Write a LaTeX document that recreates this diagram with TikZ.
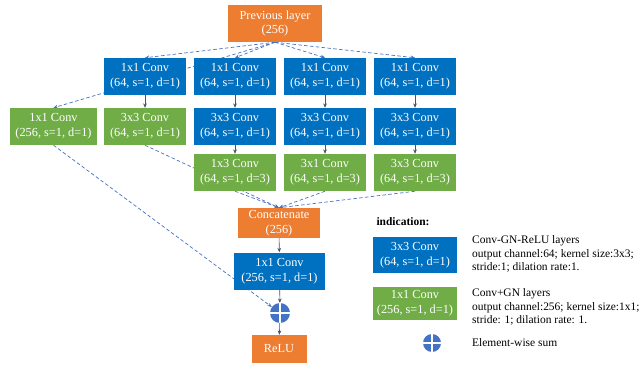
\documentclass[tikz,border=0pt]{standalone}
\usepackage{fontspec}
\setmainfont{Liberation Serif}
\usetikzlibrary{arrows.meta, positioning, backgrounds}
\definecolor{convblue}{HTML}{0070C0}
\definecolor{convgreen}{HTML}{70AD47}
\definecolor{layerorange}{HTML}{ED7D31}
\definecolor{linkblue}{HTML}{4472C4}
\definecolor{flowgray}{HTML}{44546A}

\begin{document}
\begin{tikzpicture}[x=0.3mm, y=-0.3mm, box/.style={align=center, text=white, inner sep=0pt, minimum width=24.6mm, minimum height=11.1mm, font=\fontsize{10.5}{12.5}\selectfont}, convrelu/.style={box, fill=convblue}, convgn/.style={box, fill=convgreen}, io/.style={box, fill=layerorange}, sum/.style={circle, fill=linkblue, minimum size=6mm, inner sep=0pt, path picture={\draw[white, line width=1pt] (path picture bounding box.north) -- (path picture bounding box.south) (path picture bounding box.west) -- (path picture bounding box.east);}}, link/.style={draw=linkblue, densely dashed, line width=0.6pt, -{Stealth[length=1.3mm, width=1.1mm]}}, flow/.style={draw=flowgray, line width=0.5pt, -{Stealth[length=1.3mm, width=1.1mm]}}, note/.style={align=left, anchor=west, font=\fontsize{9.8}{11.6}\selectfont}]
\useasboundingbox (0,0) rectangle (643,367);
\node[io, minimum width=28.2mm] (prev) at (275,23.5) {Previous layer\\(256)};
\foreach \i/\x in {1/145,2/235,3/325,4/415}{\node[convrelu] (a\i) at (\x,76.5) {1x1 Conv\\(64, s=1, d=1)};}
\node[convgn, minimum width=26.1mm] (b0) at (53.5,126.5) {1x1 Conv\\(256, s=1, d=1)};
\node[convgn] (b1) at (145,126.5) {3x3 Conv\\(64, s=1, d=1)};
\foreach \i/\x in {2/235,3/325,4/415}{\node[convrelu] (b\i) at (\x,126.5) {3x3 Conv\\(64, s=1, d=1)};}
\foreach \i/\x/\k in {2/235/1x3,3/325/3x1,4/415/3x3}{\node[convgn] (c\i) at (\x,172.5) {\k\ Conv\\(64, s=1, d=3)};}
\node[io, minimum height=9mm] (cat) at (279,223) {Concatenate\\(256)};
\node[convrelu, minimum width=27.3mm] (fuse) at (279.5,271) {1x1 Conv\\(256, s=1, d=1)};
\node[sum] (add) at (280,313) {};
\node[io, minimum width=16.5mm, minimum height=8.4mm] (out) at (279,349) {ReLU};
\begin{scope}[on background layer]
\foreach \t in {b0,a1,a2,a3,a4}{\draw[link] (prev.south) -- (\t.north);}
\foreach \s in {b1,c2,c3,c4}{\draw[link] (\s.south) -- (cat.north);}
\draw[link] (b0.south) -- (add);
\end{scope}
\foreach \i in {1,...,4}{\draw[flow] (a\i) -- (b\i);}
\foreach \i in {2,3,4}{\draw[flow] (b\i) -- (c\i);}
\draw[flow] (cat) -- (fuse);
\draw[flow] (fuse) -- (add);
\draw[flow] (add) -- (out);
\node[font=\bfseries\fontsize{9.8}{11.6}\selectfont] (ind) at (403,222) {indication:};
\node[convrelu, minimum width=25.2mm, minimum height=10.8mm] (k1) at (415,255) {3x3 Conv\\(64, s=1, d=1)};
\node[note] (t1) at (468,254) {Conv-GN-ReLU layers\\output channel:64; kernel size:3x3;\\stride:1; dilation rate:1.};
\node[convgn, minimum width=25.2mm, minimum height=9.9mm] (k2) at (415,303.5) {1x1 Conv\\(256, s=1, d=1)};
\node[note] (t2) at (468,307) {Conv+GN layers\\output channel:256; kernel size:1x1;\\stride: 1; dilation rate: 1.};
\node[sum, minimum size=5.4mm] (k3) at (432,343) {};
\node[note] (t3) at (468,343) {Element-wise sum};
\end{tikzpicture}
\end{document}
